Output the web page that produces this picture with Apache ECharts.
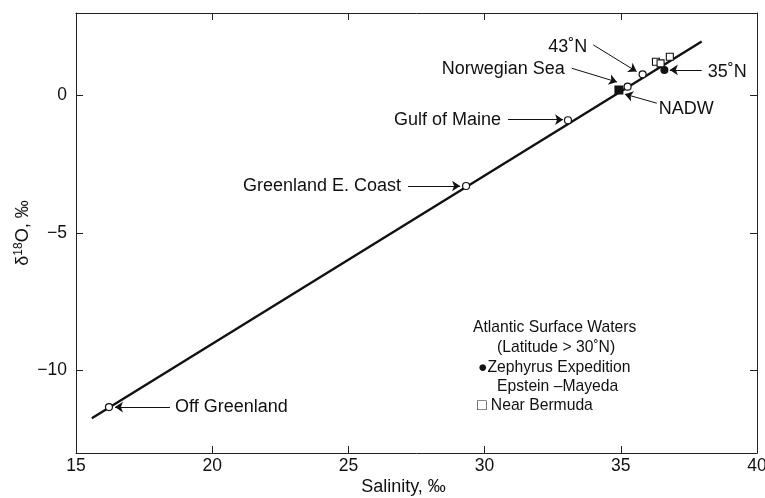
<!DOCTYPE html>
<html>
<head>
<meta charset="utf-8">
<script src="https://cdn.jsdelivr.net/npm/echarts@6/dist/echarts.min.js"></script>
<style>
html,body{margin:0;padding:0;background:#fff;}
#chart{width:765px;height:498px;}
</style>
</head>
<body>
<div id="chart"></div>
<script>
// ---- data ----
var xTicks = [15, 20, 25, 30, 35, 40];
var yTicks = [-10, -5, 0];
var fitLine = [[15.58, -11.74], [37.97, 1.96]];
var openCircles = [[16.21, -11.33], [29.32, -3.29], [33.06, -0.90], [35.25, 0.32], [35.80, 0.77]];
var zephyrus = [[36.60, 0.93]];
var nadw = [[34.93, 0.20]];
var nearBermuda = [[36.29, 1.23], [36.46, 1.17], [36.80, 1.41]];
var annotNames = ['Off Greenland', 'Greenland E. Coast', 'Gulf of Maine', 'Norwegian Sea', '43˚N', '35˚N', 'NADW'];
var arrowTails = [[18.45, -11.33], [27.19, -3.29], [30.86, -0.88], [33.2, 0.99], [33.99, 1.84], [37.97, 0.93], [36.32, -0.28]];
var arrowHeads = [[16.43, -11.33], [29.10, -3.29], [32.88, -0.88], [34.86, 0.49], [35.58, 0.87], [36.80, 0.93], [35.15, 0.05]];
var legendLines = ['Atlantic Surface Waters', '(Latitude > 30˚N)', '●Zephyrus Expedition', 'Epstein –Mayeda', '□ Near Bermuda'];

// ---- styles ----
var FONT = '"Liberation Sans", Arial, Helvetica, sans-serif';
var INK = '#111';
var labelSide = ['right', 'left', 'left', 'left', 'left', 'right', 'right'];
var labelDist = [5, 7, 7, 4, 6, 6, 2];
var labelOffset = [[0,0],[0,0],[0,0],[-3,1],[0,2],[0,2],[0,6]];

var chart = echarts.init(document.getElementById('chart'));

var arrowData = annotNames.map(function (n, i) {
  return { coords: [arrowTails[i], arrowHeads[i]] };
});
var labelData = annotNames.map(function (n, i) {
  return {
    value: arrowTails[i], name: n,
    label: { position: labelSide[i], distance: labelDist[i], offset: labelOffset[i] }
  };
});

var axisLineStyle = { onZero: false, lineStyle: { color: '#222', width: 1 } };
var tickStyle = { inside: true, length: 7, lineStyle: { color: '#222', width: 1 } };

var option = {
  backgroundColor: '#fff',
  animation: false,
  textStyle: { fontFamily: FONT },
  grid: { left: 76, right: 8, top: 13, bottom: 45, containLabel: false, outerBoundsMode: 'none' },
  xAxis: [
    {
      type: 'value', min: xTicks[0], max: xTicks[xTicks.length - 1], interval: 5,
      position: 'bottom',
      axisLine: axisLineStyle, axisTick: tickStyle,
      axisLabel: { fontSize: 17.5, color: INK, margin: 4, fontFamily: FONT },
      splitLine: { show: false },
      name: 'Salinity, ‰', nameLocation: 'middle', nameGap: 25, nameMoveOverlap: false,
      nameTextStyle: { fontSize: 18, color: INK, fontFamily: FONT, padding: [0, 26, 0, 0] }
    },
    {
      type: 'value', min: xTicks[0], max: xTicks[xTicks.length - 1], interval: 5,
      position: 'top',
      axisLine: axisLineStyle, axisTick: tickStyle,
      axisLabel: { show: false }, splitLine: { show: false }
    }
  ],
  yAxis: [
    {
      type: 'value', min: -13, max: 3, position: 'left',
      axisLine: axisLineStyle,
      axisTick: Object.assign({ customValues: yTicks }, tickStyle),
      axisLabel: {
        customValues: yTicks, fontSize: 17.5, color: INK, margin: 9, fontFamily: FONT,
        formatter: function (v) { return String(v).replace('-', '−'); }
      },
      splitLine: { show: false },
      name: '{a|δ}{s|18}{a|O, ‰}', nameLocation: 'middle', nameGap: 43, nameRotate: 90,
      nameMoveOverlap: false,
      nameTextStyle: {
        color: INK, fontFamily: FONT,
        rich: {
          a: { fontSize: 18, color: INK, fontFamily: FONT },
          s: { fontSize: 12, color: INK, fontFamily: FONT, padding: [0, 0, 8, 0] }
        }
      }
    },
    {
      type: 'value', min: -13, max: 3, position: 'right',
      axisLine: axisLineStyle,
      axisTick: Object.assign({ customValues: yTicks }, tickStyle),
      axisLabel: { show: false }, splitLine: { show: false }
    }
  ],
  series: [
    {
      type: 'line', data: fitLine, showSymbol: false, z: 2,
      lineStyle: { color: INK, width: 2.4 }
    },
    {
      type: 'lines', coordinateSystem: 'cartesian2d', data: arrowData, z: 3,
      symbol: ['none', 'arrow'], symbolSize: [0, 8],
      lineStyle: { color: INK, width: 1, opacity: 1 }
    },
    {
      type: 'scatter', data: labelData, symbolSize: 0, z: 4,
      itemStyle: { opacity: 1 },
      label: {
        show: true, formatter: '{b}', fontSize: 18, color: INK, fontFamily: FONT
      }
    },
    {
      type: 'scatter', data: openCircles, symbol: 'circle', symbolSize: 7, z: 5,
      itemStyle: { color: '#fff', borderColor: INK, borderWidth: 1.2, opacity: 1 }
    },
    {
      type: 'scatter', data: zephyrus, symbol: 'circle', symbolSize: 8, z: 5,
      itemStyle: { color: INK, opacity: 1 }
    },
    {
      type: 'scatter', data: nadw, symbol: 'rect', symbolSize: 9, z: 5,
      itemStyle: { color: INK, opacity: 1 }
    },
    {
      type: 'scatter', data: nearBermuda, symbol: 'rect', symbolSize: 7, z: 5,
      itemStyle: { color: '#fff', borderColor: INK, borderWidth: 1.1, opacity: 1 }
    }
  ],
  graphic: [
    { type: 'text', left: 473, top: 320, style: { text: legendLines[0], font: '15.7px ' + FONT, fill: INK } },
    { type: 'text', left: 497, top: 340, style: { text: legendLines[1], font: '15.7px ' + FONT, fill: INK } },
    { type: 'text', left: 478, top: 360, style: { text: legendLines[2], font: '15.7px ' + FONT, fill: INK } },
    { type: 'text', left: 497, top: 379, style: { text: legendLines[3], font: '15.7px ' + FONT, fill: INK } },
    { type: 'text', left: 477, top: 398, style: { text: legendLines[4], font: '15.7px ' + FONT, fill: INK } }
  ]
};
chart.setOption(option);
</script>
</body>
</html>
